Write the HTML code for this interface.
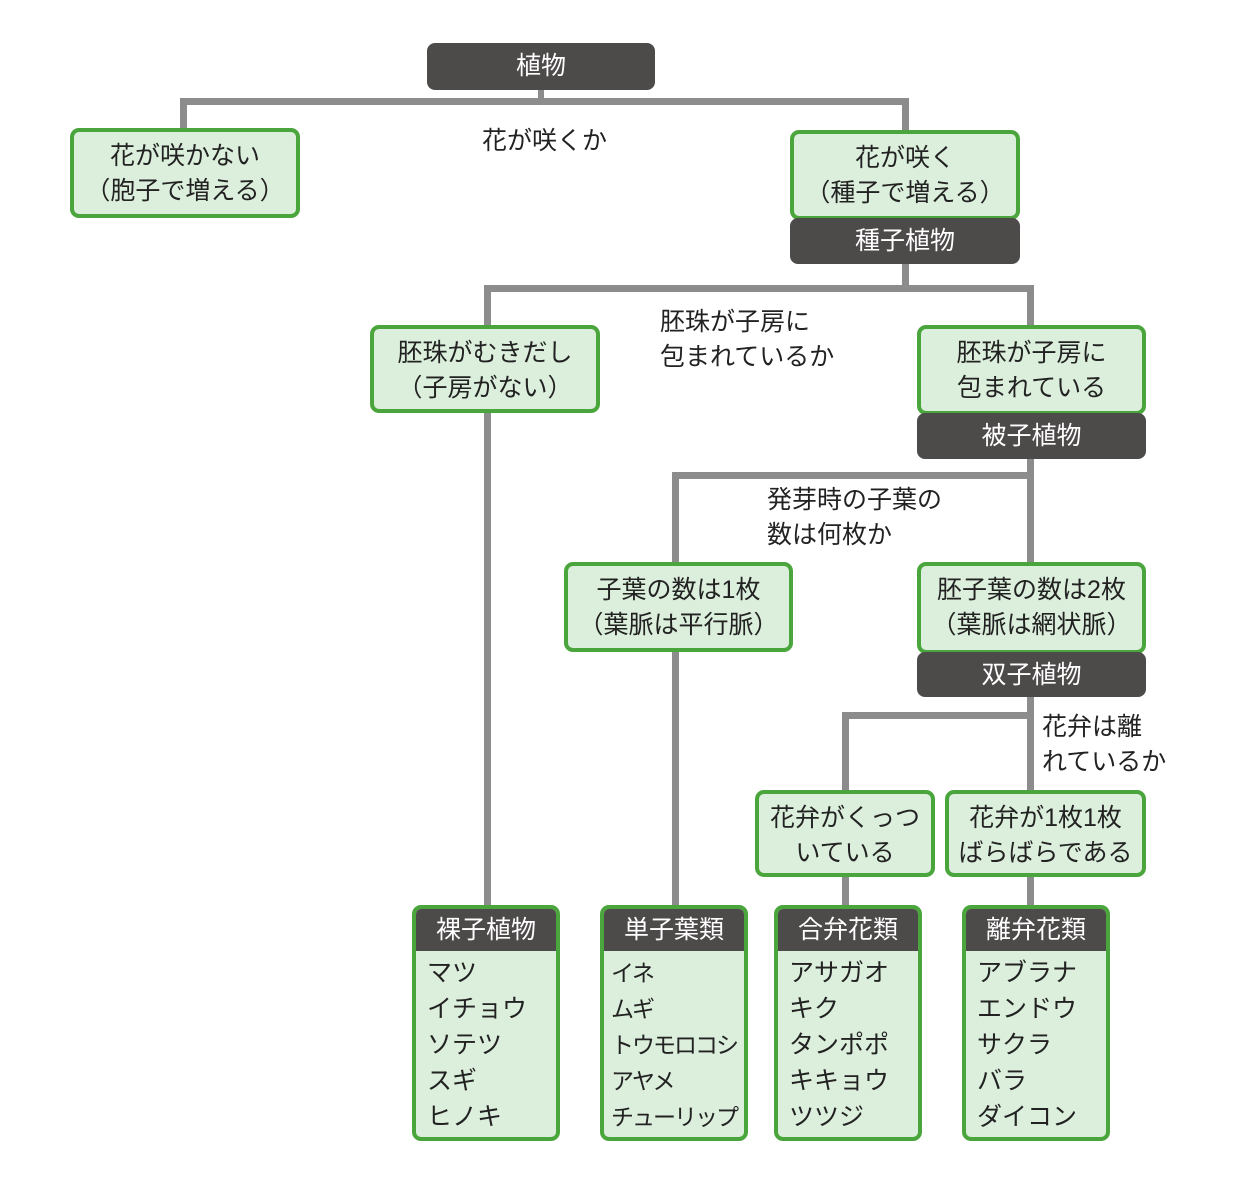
<!DOCTYPE html>
<html><head><meta charset="utf-8"><style>
body{margin:0;width:1253px;height:1186px;background:#fff;position:relative;overflow:hidden;font-family:"Liberation Sans","Noto Sans CJK JP",sans-serif;color:#222}
.l{position:absolute;background:#8c8c8c}
.b{position:absolute;box-sizing:border-box;background:#dcefdc;border:4px solid #4aa63c;border-radius:9px;text-align:center;font-size:25px;line-height:35px;padding-top:7px}
.d{position:absolute;box-sizing:border-box;background:#4d4a4a;color:#fff;border-radius:8px;text-align:center;font-size:25px;line-height:46px}
.t{position:absolute;font-size:25px;line-height:35px}
.c{position:absolute;box-sizing:border-box;background:#dcefdc;border:4px solid #4aa63c;border-radius:9px;overflow:hidden}
.c .h{background:#4d4a4a;color:#fff;text-align:center;font-size:25px;line-height:42px;height:42px}
.c .i{font-size:25px;line-height:36px;padding:4px 0 0 11px;white-space:nowrap}
</style></head><body>
<div class="l" style="left:180px;top:98px;width:728px;height:7px"></div>
<div class="l" style="left:538px;top:88px;width:6px;height:14px"></div>
<div class="l" style="left:180px;top:98px;width:7px;height:32px"></div>
<div class="l" style="left:902px;top:98px;width:7px;height:34px"></div>
<div class="l" style="left:902px;top:262px;width:7px;height:28px"></div>
<div class="l" style="left:484px;top:285px;width:549px;height:7px"></div>
<div class="l" style="left:484px;top:285px;width:7px;height:622px"></div>
<div class="l" style="left:1027px;top:285px;width:7px;height:42px"></div>
<div class="l" style="left:1027px;top:457px;width:7px;height:107px"></div>
<div class="l" style="left:672px;top:472px;width:361px;height:7px"></div>
<div class="l" style="left:672px;top:472px;width:7px;height:435px"></div>
<div class="l" style="left:1027px;top:695px;width:7px;height:97px"></div>
<div class="l" style="left:842px;top:712px;width:191px;height:7px"></div>
<div class="l" style="left:842px;top:712px;width:7px;height:80px"></div>
<div class="l" style="left:842px;top:875px;width:7px;height:32px"></div>
<div class="l" style="left:1027px;top:875px;width:7px;height:32px"></div>
<div class="d" style="left:427px;top:43px;width:228px;height:47px">植物</div>
<div class="b" style="left:70px;top:128px;width:230px;height:90px">花が咲かない<br>（胞子で増える）</div>
<div class="t" style="left:482px;top:124px">花が咲くか</div>
<div class="b" style="left:790px;top:130px;width:230px;height:90px">花が咲く<br>（種子で増える）</div>
<div class="d" style="left:790px;top:218px;width:230px;height:46px">種子植物</div>
<div class="b" style="left:370px;top:325px;width:230px;height:88px">胚珠がむきだし<br>（子房がない）</div>
<div class="t" style="left:660px;top:305px">胚珠が子房に<br>包まれているか</div>
<div class="b" style="left:917px;top:325px;width:229px;height:90px">胚珠が子房に<br>包まれている</div>
<div class="d" style="left:917px;top:413px;width:229px;height:46px">被子植物</div>
<div class="t" style="left:767px;top:483px">発芽時の子葉の<br>数は何枚か</div>
<div class="b" style="left:564px;top:562px;width:229px;height:90px">子葉の数は1枚<br>（葉脈は平行脈）</div>
<div class="b" style="left:917px;top:562px;width:229px;height:92px">胚子葉の数は2枚<br>（葉脈は網状脈）</div>
<div class="d" style="left:917px;top:652px;width:229px;height:45px">双子植物</div>
<div class="t" style="left:1042px;top:710px">花弁は離<br>れているか</div>
<div class="b" style="left:755px;top:790px;width:180px;height:87px">花弁がくっつ<br>いている</div>
<div class="b" style="left:945px;top:790px;width:201px;height:87px">花弁が1枚1枚<br>ばらばらである</div>
<div class="c" style="left:412px;top:905px;width:148px;height:236px"><div class="h">裸子植物</div><div class="i">マツ<br>イチョウ<br>ソテツ<br>スギ<br>ヒノキ</div></div>
<div class="c" style="left:600px;top:905px;width:148px;height:236px"><div class="h">単子葉類</div><div class="i" style="padding-left:7px;font-size:23px;letter-spacing:-2px">イネ<br>ムギ<br>トウモロコシ<br>アヤメ<br>チューリップ</div></div>
<div class="c" style="left:774px;top:905px;width:148px;height:236px"><div class="h">合弁花類</div><div class="i">アサガオ<br>キク<br>タンポポ<br>キキョウ<br>ツツジ</div></div>
<div class="c" style="left:962px;top:905px;width:148px;height:236px"><div class="h">離弁花類</div><div class="i">アブラナ<br>エンドウ<br>サクラ<br>バラ<br>ダイコン</div></div>
</body></html>
